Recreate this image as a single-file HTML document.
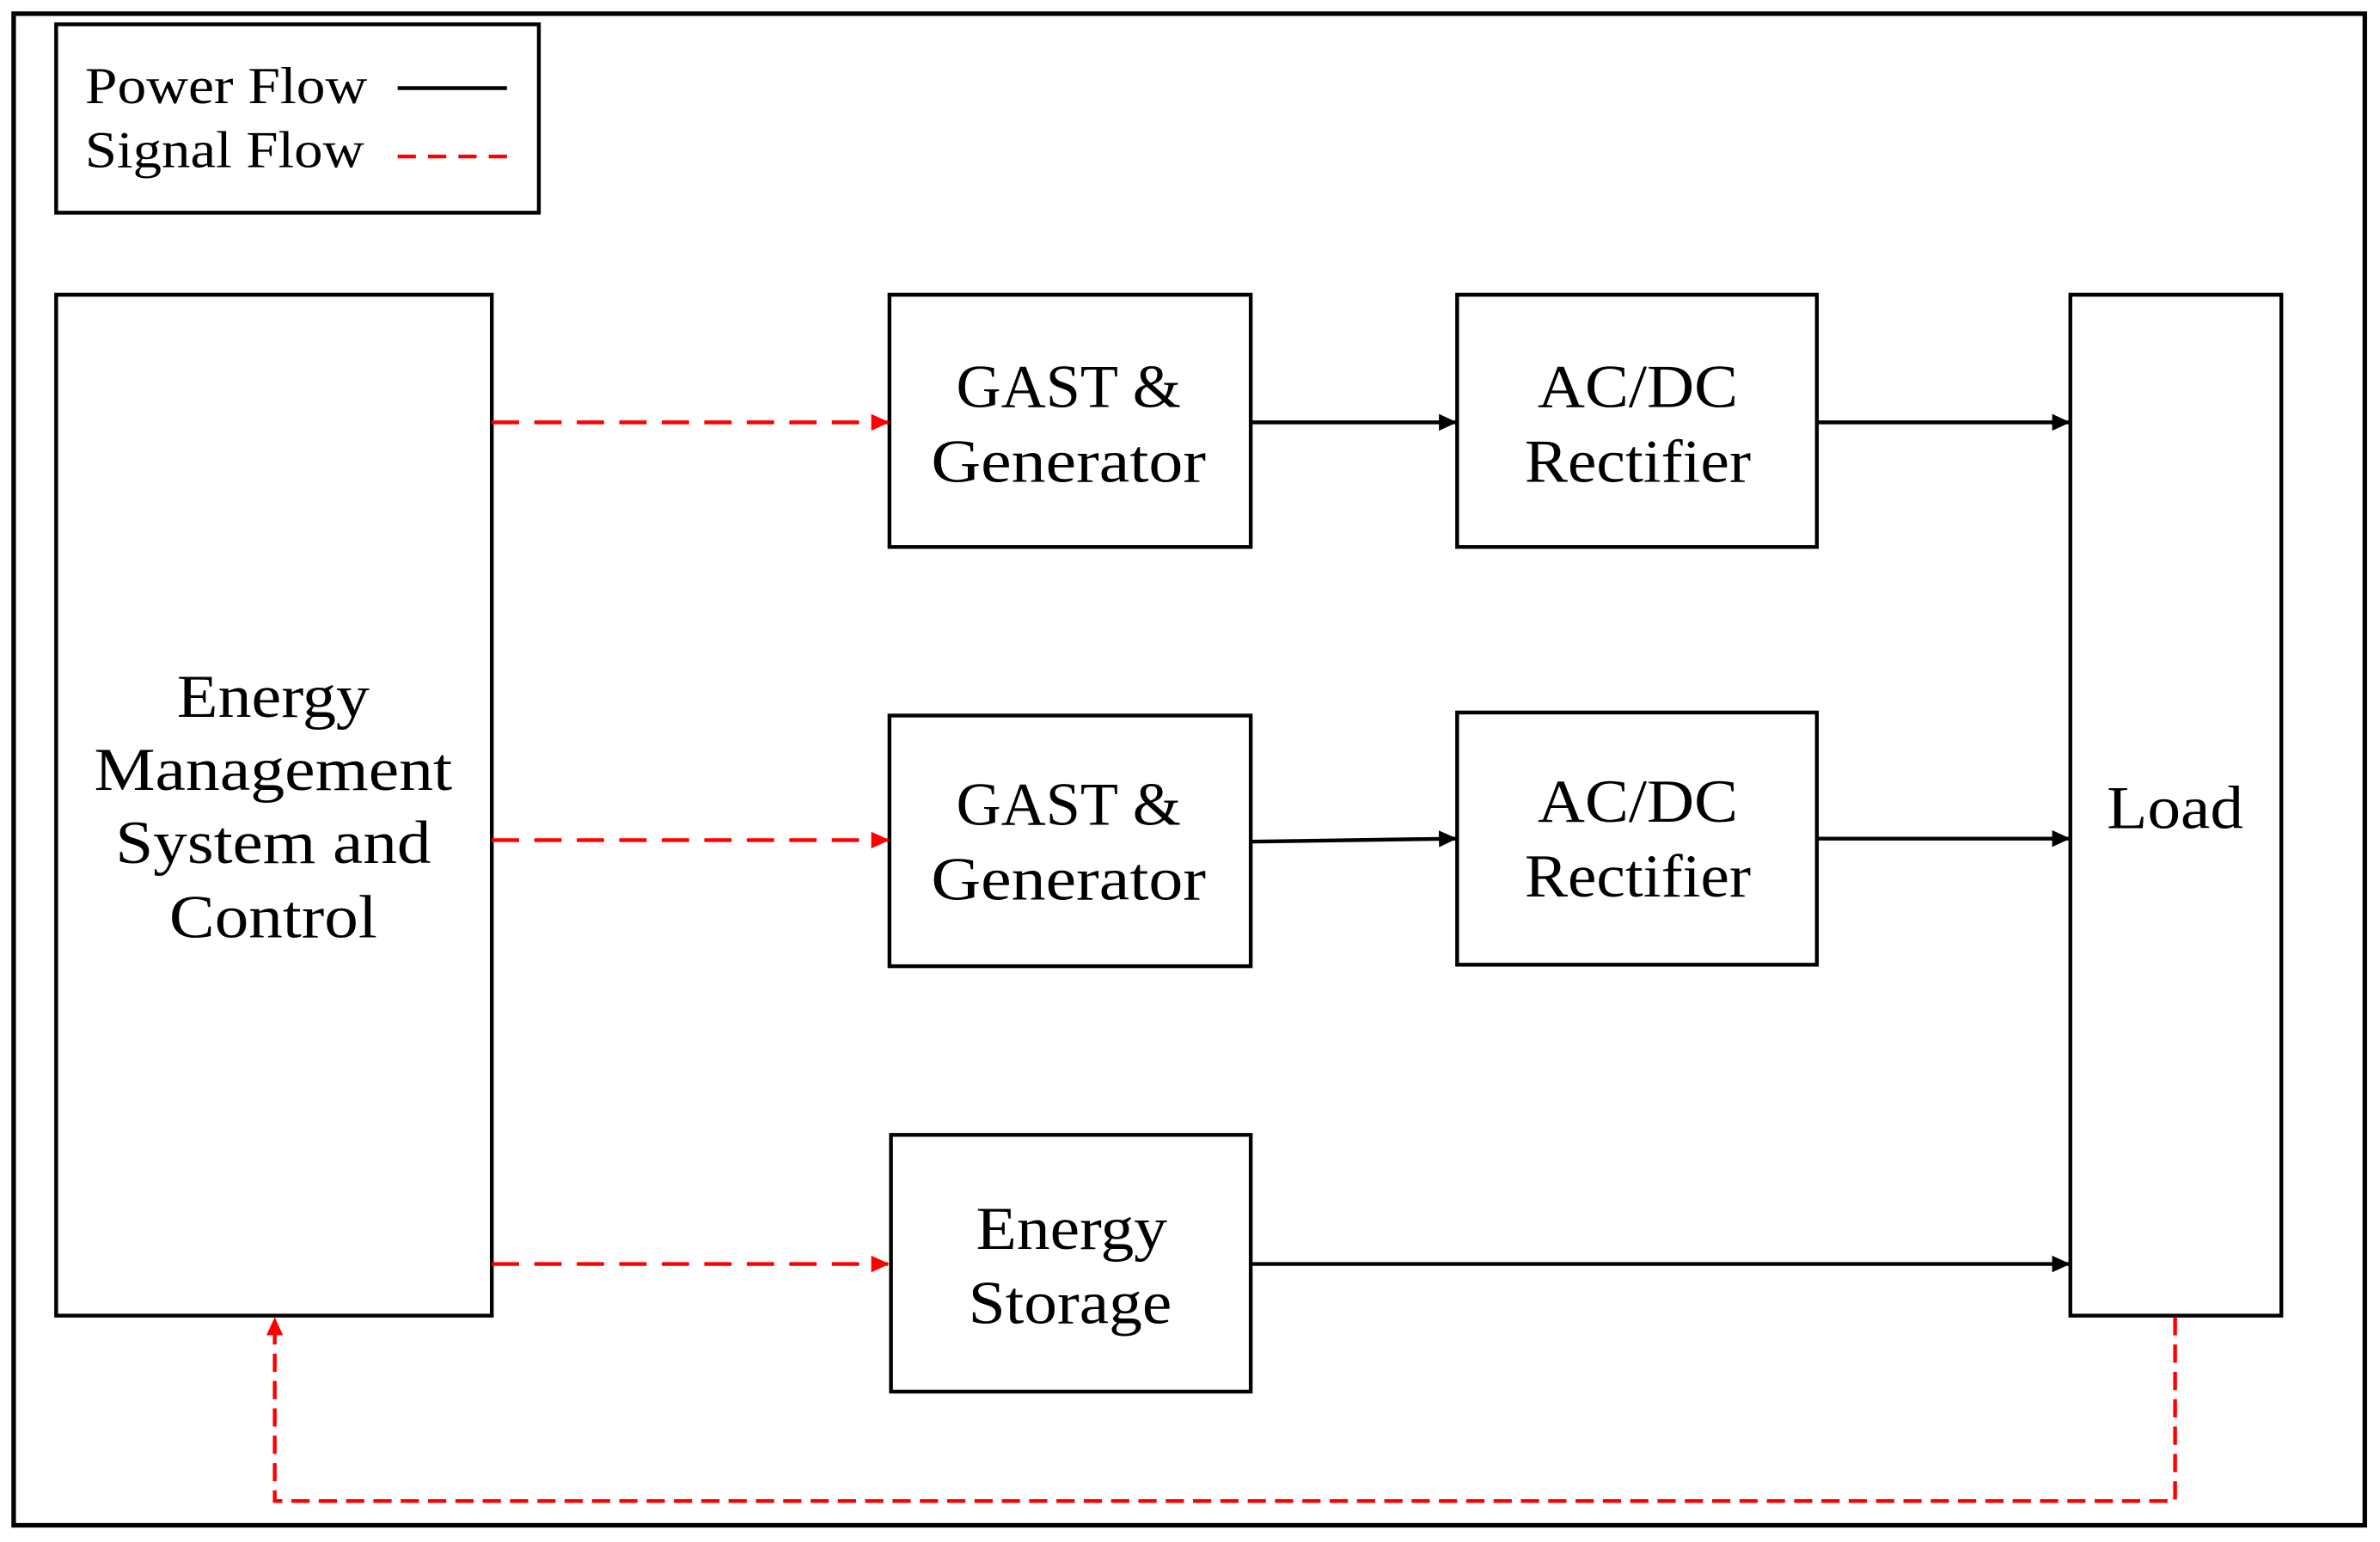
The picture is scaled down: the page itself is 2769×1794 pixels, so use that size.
<!DOCTYPE html>
<html><head><meta charset="utf-8"><style>
html,body{margin:0;padding:0;background:#fff;}
svg{display:block;}
text{font-family:"Liberation Serif","DejaVu Serif",serif;fill:#000;}
</style></head><body>
<svg width="2769" height="1794" viewBox="0 0 1568 1015" preserveAspectRatio="none" xmlns="http://www.w3.org/2000/svg">
<defs>
<marker id="ab" markerWidth="12" markerHeight="12" refX="11" refY="6" orient="auto" markerUnits="userSpaceOnUse"><path d="M0,0.5 L12,6 L0,11.5 z" fill="#000"/></marker>
<marker id="ar" markerWidth="12" markerHeight="12" refX="11" refY="6" orient="auto" markerUnits="userSpaceOnUse"><path d="M0,0.5 L12,6 L0,11.5 z" fill="#f00"/></marker>
</defs>
<rect x="9" y="9" width="1549" height="995" fill="#fff" stroke="#000" stroke-width="3"/>
<rect x="37" y="16" width="318" height="124" fill="none" stroke="#000" stroke-width="2.5"/>
<text x="56" y="68" font-size="34" textLength="186" lengthAdjust="spacingAndGlyphs">Power Flow</text>
<text x="56" y="110" font-size="34" textLength="184" lengthAdjust="spacingAndGlyphs">Signal Flow</text>
<line x1="262" y1="58" x2="334" y2="58" stroke="#000" stroke-width="2.5"/>
<line x1="262" y1="103" x2="334" y2="103" stroke="#f00" stroke-width="2.5" stroke-dasharray="12,8"/>
<g fill="none" stroke="#000" stroke-width="2.5">
<rect x="37" y="194" width="287" height="672"/>
<rect x="586" y="194" width="238" height="166"/>
<rect x="960" y="194" width="237" height="166"/>
<rect x="586" y="471" width="238" height="165"/>
<rect x="960" y="469" width="237" height="166"/>
<rect x="587" y="747" width="237" height="169"/>
<rect x="1364" y="194" width="139" height="672"/>
</g>
<g font-size="40" text-anchor="middle" lengthAdjust="spacingAndGlyphs">
<text x="180" y="472" textLength="127" lengthAdjust="spacingAndGlyphs">Energy</text>
<text x="180" y="520" textLength="236" lengthAdjust="spacingAndGlyphs">Management</text>
<text x="180" y="568" textLength="208" lengthAdjust="spacingAndGlyphs">System and</text>
<text x="180" y="617" textLength="137" lengthAdjust="spacingAndGlyphs">Control</text>
<text x="704" y="268" textLength="148" lengthAdjust="spacingAndGlyphs">GAST &amp;</text>
<text x="704" y="317" textLength="181" lengthAdjust="spacingAndGlyphs">Generator</text>
<text x="1079" y="268" textLength="132" lengthAdjust="spacingAndGlyphs">AC/DC</text>
<text x="1079" y="317" textLength="149" lengthAdjust="spacingAndGlyphs">Rectifier</text>
<text x="704" y="543" textLength="148" lengthAdjust="spacingAndGlyphs">GAST &amp;</text>
<text x="704" y="592" textLength="181" lengthAdjust="spacingAndGlyphs">Generator</text>
<text x="1079" y="541" textLength="132" lengthAdjust="spacingAndGlyphs">AC/DC</text>
<text x="1079" y="590" textLength="149" lengthAdjust="spacingAndGlyphs">Rectifier</text>
<text x="706" y="822" textLength="126" lengthAdjust="spacingAndGlyphs">Energy</text>
<text x="705" y="871" textLength="134" lengthAdjust="spacingAndGlyphs">Storage</text>
<text x="1433" y="545" textLength="90" lengthAdjust="spacingAndGlyphs">Load</text>
</g>
<g stroke="#f00" stroke-width="2.5" stroke-dasharray="18,10" fill="none">
<line x1="324" y1="278" x2="585" y2="278" marker-end="url(#ar)"/>
<line x1="324" y1="553" x2="585" y2="553" marker-end="url(#ar)"/>
<line x1="324" y1="832" x2="585" y2="832" marker-end="url(#ar)"/>
<polyline points="1433,867 1433,988 181,988 181,868" marker-end="url(#ar)" stroke-dasharray="12,6"/>
</g>
<g stroke="#000" stroke-width="2.5" fill="none">
<line x1="824" y1="278" x2="959" y2="278" marker-end="url(#ab)"/>
<line x1="824" y1="554" x2="959" y2="552" marker-end="url(#ab)"/>
<line x1="1197" y1="278" x2="1363" y2="278" marker-end="url(#ab)"/>
<line x1="1197" y1="552" x2="1363" y2="552" marker-end="url(#ab)"/>
<line x1="824" y1="832" x2="1363" y2="832" marker-end="url(#ab)"/>
</g>
</svg>
</body></html>
